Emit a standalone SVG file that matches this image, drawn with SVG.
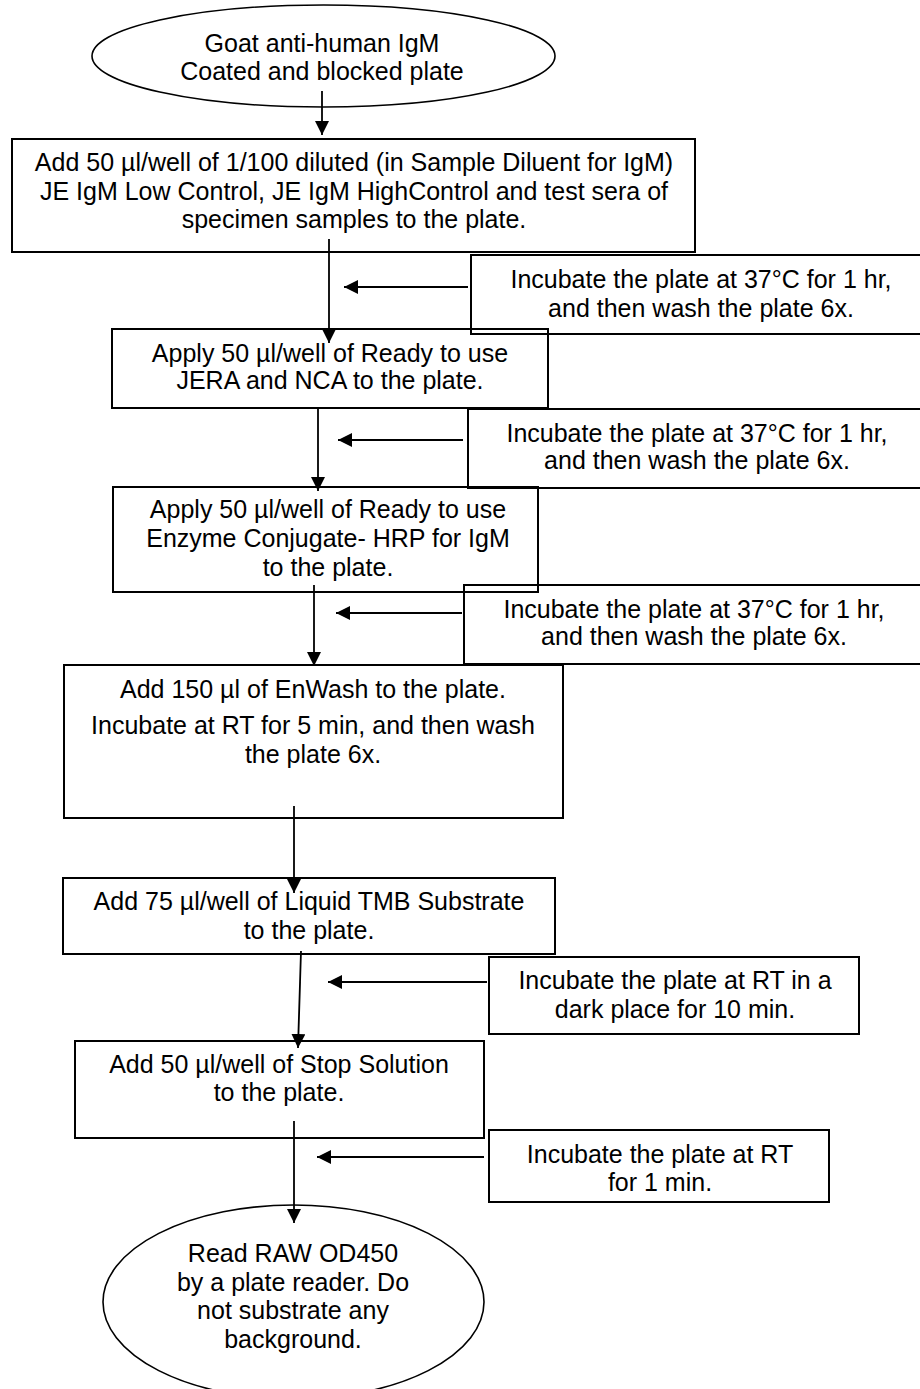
<svg xmlns="http://www.w3.org/2000/svg" width="920" height="1389" viewBox="0 0 920 1389">
<style>
.box{fill:none;stroke:#000;stroke-width:2}
.ell{fill:none;stroke:#000;stroke-width:1.6}
.t{font-family:"Liberation Sans",Arial,sans-serif;font-size:25px;fill:#000;text-anchor:middle}
.c{stroke:#000;stroke-width:1.8;fill:none}
</style>
<defs>
<marker id="ah" markerUnits="userSpaceOnUse" markerWidth="15" markerHeight="15" refX="14" refY="7" orient="auto">
<path d="M0,0 L14,7 L0,14 z" fill="#000"/>
</marker>
</defs>
<rect width="920" height="1389" fill="#fff"/>
<g id="start">
<ellipse class="ell" cx="323.5" cy="56" rx="231.5" ry="51"/>
<text class="t" x="322" y="52">Goat anti-human IgM</text>
<text class="t" x="322" y="80">Coated and blocked plate</text>
</g>
<g id="step1">
<rect class="box" x="12" y="139" width="683" height="113"/>
<text class="t" x="354" y="171">Add 50 µl/well of 1/100 diluted (in Sample Diluent for IgM)</text>
<text class="t" x="354" y="200">JE IgM Low Control, JE IgM HighControl and test sera of</text>
<text class="t" x="354" y="228">specimen samples to the plate.</text>
</g>
<g id="inc1">
<rect class="box" x="471" y="255" width="461" height="79"/>
<text class="t" x="701" y="288">Incubate the plate at 37°C for 1 hr,</text>
<text class="t" x="701" y="317">and then wash the plate 6x.</text>
</g>
<g id="step2">
<rect class="box" x="112" y="329" width="436" height="79"/>
<text class="t" x="330" y="362">Apply 50 µl/well of Ready to use</text>
<text class="t" x="330" y="389">JERA and NCA to the plate.</text>
</g>
<g id="inc2">
<rect class="box" x="468" y="409" width="459" height="79"/>
<text class="t" x="697" y="442">Incubate the plate at 37°C for 1 hr,</text>
<text class="t" x="697" y="469">and then wash the plate 6x.</text>
</g>
<g id="step3">
<rect class="box" x="113" y="487" width="425" height="105"/>
<text class="t" x="328" y="518">Apply 50 µl/well of Ready to use</text>
<text class="t" x="328" y="547">Enzyme Conjugate- HRP for IgM</text>
<text class="t" x="328" y="576">to the plate.</text>
</g>
<g id="inc3">
<rect class="box" x="464" y="585" width="460" height="79"/>
<text class="t" x="694" y="618">Incubate the plate at 37°C for 1 hr,</text>
<text class="t" x="694" y="645">and then wash the plate 6x.</text>
</g>
<g id="step4">
<rect class="box" x="64" y="665" width="499" height="153"/>
<text class="t" x="313" y="698">Add 150 µl of EnWash to the plate.</text>
<text class="t" x="313" y="734">Incubate at RT for 5 min, and then wash</text>
<text class="t" x="313" y="763">the plate 6x.</text>
</g>
<g id="step5">
<rect class="box" x="63" y="878" width="492" height="76"/>
<text class="t" x="309" y="910">Add 75 µl/well of Liquid TMB Substrate</text>
<text class="t" x="309" y="939">to the plate.</text>
</g>
<g id="inc4">
<rect class="box" x="489" y="957" width="370" height="77"/>
<text class="t" x="675" y="989">Incubate the plate at RT in a</text>
<text class="t" x="675" y="1018">dark place for 10 min.</text>
</g>
<g id="step6">
<rect class="box" x="75" y="1041" width="409" height="97"/>
<text class="t" x="279" y="1073">Add 50 µl/well of Stop Solution</text>
<text class="t" x="279" y="1101">to the plate.</text>
</g>
<g id="inc5">
<rect class="box" x="489" y="1130" width="340" height="72"/>
<text class="t" x="660" y="1163">Incubate the plate at RT</text>
<text class="t" x="660" y="1191">for 1 min.</text>
</g>
<g id="end">
<ellipse class="ell" cx="293.5" cy="1302" rx="190.5" ry="97"/>
<text class="t" x="293" y="1262">Read RAW OD450</text>
<text class="t" x="293" y="1291">by a plate reader. Do</text>
<text class="t" x="293" y="1319">not substrate any</text>
<text class="t" x="293" y="1348">background.</text>
</g>
<g id="connectors">
<line class="c" x1="322" y1="91" x2="322" y2="135" marker-end="url(#ah)"/>
<line class="c" x1="329" y1="239" x2="329" y2="343" marker-end="url(#ah)"/>
<line class="c" x1="318" y1="408" x2="318" y2="491" marker-end="url(#ah)"/>
<line class="c" x1="314" y1="585" x2="314" y2="666" marker-end="url(#ah)"/>
<line class="c" x1="294" y1="806" x2="294" y2="893" marker-end="url(#ah)"/>
<line class="c" x1="301" y1="951" x2="298" y2="1048" marker-end="url(#ah)"/>
<line class="c" x1="294" y1="1121" x2="294" y2="1223" marker-end="url(#ah)"/>
<line class="c" x1="468" y1="287" x2="344" y2="287" marker-end="url(#ah)"/>
<line class="c" x1="463" y1="440" x2="338" y2="440" marker-end="url(#ah)"/>
<line class="c" x1="462" y1="613" x2="336" y2="613" marker-end="url(#ah)"/>
<line class="c" x1="487" y1="982" x2="328" y2="982" marker-end="url(#ah)"/>
<line class="c" x1="484" y1="1157" x2="317" y2="1157" marker-end="url(#ah)"/>
</g>
</svg>
